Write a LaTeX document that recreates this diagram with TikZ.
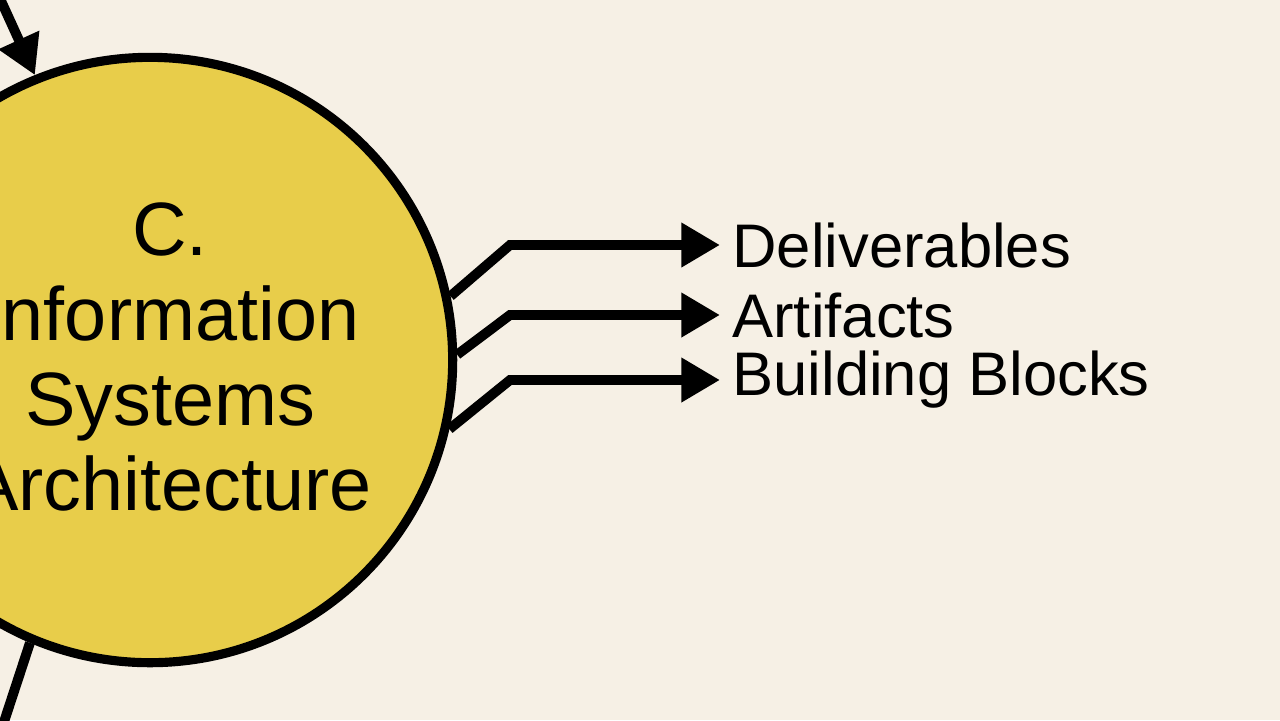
\documentclass[tikz,border=0pt]{standalone}
\usepackage{fontspec}
\setmainfont{Liberation Sans}
\usetikzlibrary{arrows.meta,positioning}
\definecolor{paper}{RGB}{246,240,229}
\definecolor{sunny}{RGB}{232,205,74}
\tikzset{
	flow/.style={line width=2.8pt,-{Triangle[length=11pt,width=12pt]}},
	outlabel/.style={anchor=west,font=\fontsize{17.5}{20}\selectfont}
}
\begin{document}
\begin{tikzpicture}[x=0.01cm,y=0.01cm]
	%BACKGROUND
	\fill[paper] (0,0) rectangle (1280,720);
	\useasboundingbox (0,0) rectangle (1280,720);

	%CIRCLE
	\node[circle,draw,line width=2.6pt,fill=sunny,minimum size=6.05cm] (info) at (150,360) {};
	\node[align=center,font=\fontsize{21.5}{24.2}\selectfont] (title) at (170,363) {C.\\Information\\Systems\\Architecture};

	%INCOMING AND OUTGOING
	\coordinate (top) at (-3,728);
	\coordinate (bot) at (2,-8);
	\draw[flow] (top) -- (info.112);
	\draw[line width=2.8pt] (info.247) -- (bot);

	%OUTPUTS
	\foreach \a/\y/\n/\t in {12/475/del/Deliverables,1/405/art/Artifacts,-13/340/bb/Building Blocks}{
		\node[outlabel] (\n) at (720,\y) {\t};
		\draw[flow] (info.\a) -- (510,\y) -- (\n.west);
	}
\end{tikzpicture}
\end{document}
